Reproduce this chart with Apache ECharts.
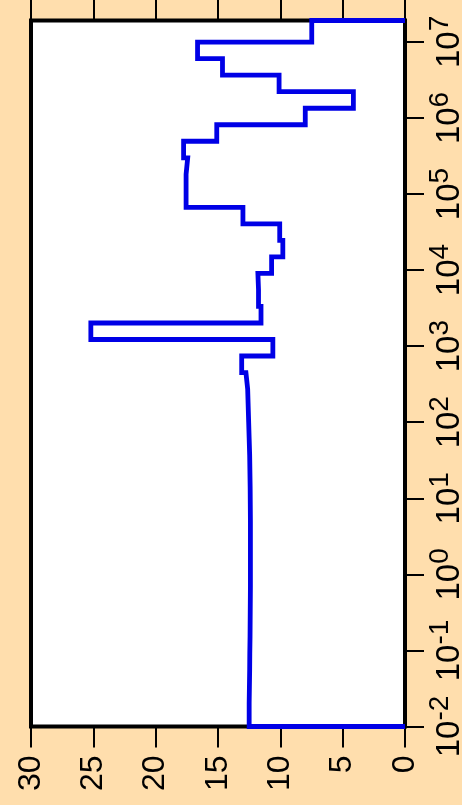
<!DOCTYPE html>
<html><head><meta charset="utf-8">
<script src="https://cdn.jsdelivr.net/npm/echarts@6/dist/echarts.min.js"></script>
<style>html,body{margin:0;padding:0;background:#FFDEAD;}#c{width:462px;height:805px;}</style>
</head><body><div id="c"></div>
<script>
// Bin edges (log-scaled axis, bottom -> top) and the step height of each bin
const binEdges = [0.01, 0.01238, 0.0204, 0.03364, 0.05546, 0.09145, 0.1508, 0.2486, 0.41, 0.6759,
  1.114, 1.837, 3.029, 4.994, 8.234, 13.58, 22.39, 36.92, 60.87, 100.4,
  165.5, 272.9, 449.8, 741.8, 1223, 2016, 3324, 5482, 9040, 14900,
  24570, 40510, 66790, 110100, 181600, 299400, 493600, 813900, 1342000, 2213000,
  3649000, 6016000, 9918000, 19100000];
const binValues = [12.5, 12.5, 12.48, 12.46, 12.45, 12.43, 12.42, 12.41, 12.4, 12.4,
  12.4, 12.4, 12.4, 12.41, 12.42, 12.44, 12.46, 12.5, 12.54, 12.58,
  12.62, 12.76, 13.1, 10.6, 25.2, 11.55, 11.75, 11.8, 10.7, 9.8,
  10.05, 13.0, 17.56, 17.56, 17.43, 17.76, 15.1, 8.0, 4.14, 10.1,
  14.64, 16.64, 7.48];
const valueTicks = [0, 5, 10, 15, 20, 25, 30];
const logTicks = [0.01, 0.1, 1, 10, 100, 1000, 10000, 100000, 1000000, 10000000];
const leftTicks = [0.01];
const logMin = 0.01, logMax = 19100000;

const points = [[0, binEdges[0]]];
for (let i = 0; i < binValues.length; i++) {
  points.push([binValues[i], binEdges[i]]);
  points.push([binValues[i], binEdges[i + 1]]);
}
points.push([0, binEdges[binEdges.length - 1]]);

const FONT = '"Liberation Sans", Arial, Helvetica, sans-serif';
const chart = echarts.init(document.getElementById('c'));
const tickStyle = {color: '#000', width: 2};
function logLabel(v) {
  const e = Math.round(Math.log10(v));
  if (Math.abs(Math.log10(v) - e) > 1e-6) return '';
  return '{b|10}{s|' + e + '}';
}
chart.setOption({
  animation: false,
  backgroundColor: '#FFDEAD',
  grid: {left: 31, right: 57, top: 20.5, bottom: 78.5, show: true, backgroundColor: '#fff',
         borderColor: '#000', borderWidth: 4, containLabel: false, outerBoundsMode: 'none'},
  xAxis: [{
    type: 'value', min: 0, max: 30, interval: 5, inverse: true, position: 'bottom',
    axisLine: {show: false}, splitLine: {show: false},
    axisTick: {show: true, inside: false, length: 21, lineStyle: tickStyle, customValues: valueTicks},
    axisLabel: {rotate: 90, margin: 29, fontSize: 32, color: '#000', fontFamily: FONT, customValues: valueTicks}
  }, {
    type: 'value', min: 0, max: 30, interval: 5, inverse: true, position: 'top',
    axisLine: {show: false}, splitLine: {show: false},
    axisTick: {show: true, inside: false, length: 22, lineStyle: tickStyle, customValues: valueTicks},
    axisLabel: {show: false}
  }],
  yAxis: [{
    type: 'log', logBase: 10, min: logMin, max: logMax, position: 'right',
    axisLine: {show: false}, splitLine: {show: false},
    axisTick: {show: true, inside: false, length: 19, lineStyle: tickStyle, customValues: logTicks},
    axisLabel: {rotate: 90, margin: 21, color: '#000', fontFamily: FONT, customValues: logTicks,
      formatter: logLabel,
      rich: {b: {fontSize: 33, fontFamily: FONT, color: '#000'},
             s: {fontSize: 28, fontFamily: FONT, color: '#000', padding: [0, 0, 20, 0]}}}
  }, {
    type: 'log', logBase: 10, min: logMin, max: logMax, position: 'left',
    axisLine: {show: false}, splitLine: {show: false},
    axisTick: {show: true, inside: false, length: 20, lineStyle: tickStyle, customValues: leftTicks},
    axisLabel: {show: false}
  }],
  series: [{
    type: 'line', xAxisIndex: 0, yAxisIndex: 0, data: points,
    showSymbol: false, symbol: 'none', clip: false,
    lineStyle: {color: '#0000E6', width: 4.8, join: 'miter'}
  }]
});
</script></body></html>
